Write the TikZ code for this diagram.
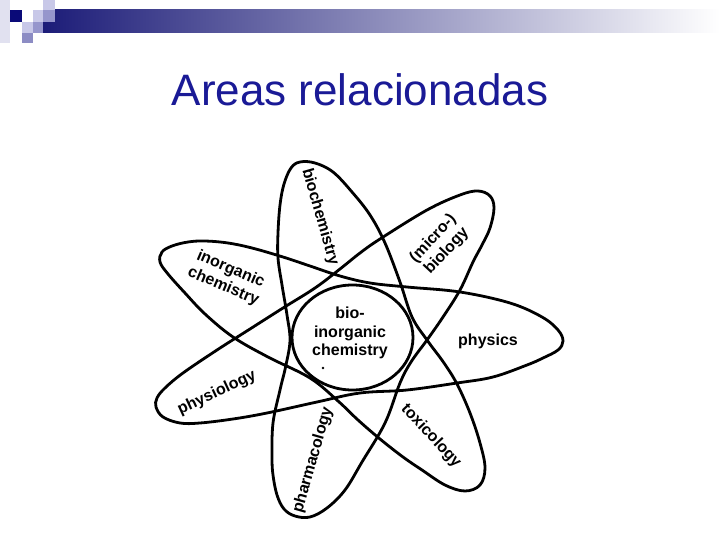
\documentclass[tikz,border=0pt]{standalone}
\usepackage{fontspec}
\setmainfont{Liberation Sans}
\definecolor{navyA}{RGB}{10,10,120}
\definecolor{barL}{RGB}{28,28,120}
\definecolor{barM}{RGB}{165,165,190}
\definecolor{lavL}{RGB}{200,200,232}
\definecolor{lavM}{RGB}{150,150,204}
\definecolor{lavM2}{RGB}{140,140,196}
\definecolor{lavVL}{RGB}{225,225,240}
\definecolor{titleblue}{RGB}{26,26,150}
\tikzset{
  orbit/.style={line width=2.8pt, line join=round},
  lbl/.style={font=\bfseries\fontsize{16}{18.5}\selectfont, align=center, inner sep=0pt},
  titlestyle/.style={font=\fontsize{44}{50}\selectfont, text=titleblue, inner sep=0pt}
}
\begin{document}
\begin{tikzpicture}[x=1pt,y=-1pt]
\useasboundingbox (0,0) rectangle (720,540);
% header decoration
\shade[left color=barL, middle color=barM, right color=white] (43,10) rectangle (720,33);
\fill[lavVL] (0,0) rectangle (10,43);
\fill[navyA] (10,10) rectangle (22,22);
\fill[lavL] (22,22) rectangle (33,33);
\fill[lavM2] (22,33) rectangle (33,43);
\fill[lavL] (33,10) rectangle (43,22);
\fill[lavM] (33,22) rectangle (43,33);
\fill[lavL] (43,0) rectangle (55,10);
\fill[lavM] (43,10) rectangle (55,22);
% title
\node[titlestyle, anchor=base] (title) at (360,106) {Areas relacionadas};
% star curve
\draw[orbit] plot[smooth cycle, tension=0.6] coordinates {
 (300,162) (315,163) (333,172) (352,192) (370,215) (385,243) (400,282) (412,317)
 (427,340) (444,363) (457,384) (470,413) (480,443) (485,468) (480,485) (465,491) (445,485)
 (422,470) (403,457) (380,439) (358,420) (338,401) (310,378) (268,357) (233,337)
 (205,314) (185,293) (168,274) (160,262)
 (162,252) (172,246) (188,242) (205,241) (228,243) (252,248) (283,257) (310,266)
 (340,276) (370,283) (407,287) (460,292) (510,303) (542,317) (558,330) (563,341)
 (558,350) (543,358) (527,365) (493,377) (457,383) (407,390) (360,393) (317,402)
 (267,413) (233,419) (200,423) (180,423) (163,417) (156,407)
 (157,398) (165,388) (183,373) (217,350) (250,329) (283,308) (315,288) (340,269)
 (360,253) (380,239) (427,210) (460,195) (478,191) (490,196)
 (494,208) (490,228) (482,245) (473,262) (460,290) (443,317) (427,340) (411,362)
 (400,383) (385,423) (362,462) (345,490) (327,508) (310,517) (295,516)
 (284,509) (277,495) (273,475) (272,457) (273,423) (280,390) (286,365) (290,340)
 (287,315) (282,285) (278,258) (278,233) (280,205) (284,184) (291,168)
};
% central circle
\draw[orbit] (352.5,337.5) ellipse [x radius=60.5, y radius=52.5];
\fill (323,368) circle [radius=1.3];
% labels
\node[lbl] (bic) at (350,333) {bio-\\inorganic\\chemistry};
\node[lbl, rotate=-74] (biochem) at (320,217) {biochemistry};
\node[lbl, rotate=47] (micro) at (440,245) {(micro-)\\biology};
\node[lbl, rotate=-23] (inorg) at (227,278) {inorganic\\chemistry};
\node[lbl] (phys) at (488,341) {physics};
\node[lbl, rotate=-47] (tox) at (431,436) {toxicology};
\node[lbl, rotate=74] (pharm) at (313,460) {pharmacology};
\node[lbl, rotate=25] (physio) at (217,393) {physiology};
\end{tikzpicture}
\end{document}
